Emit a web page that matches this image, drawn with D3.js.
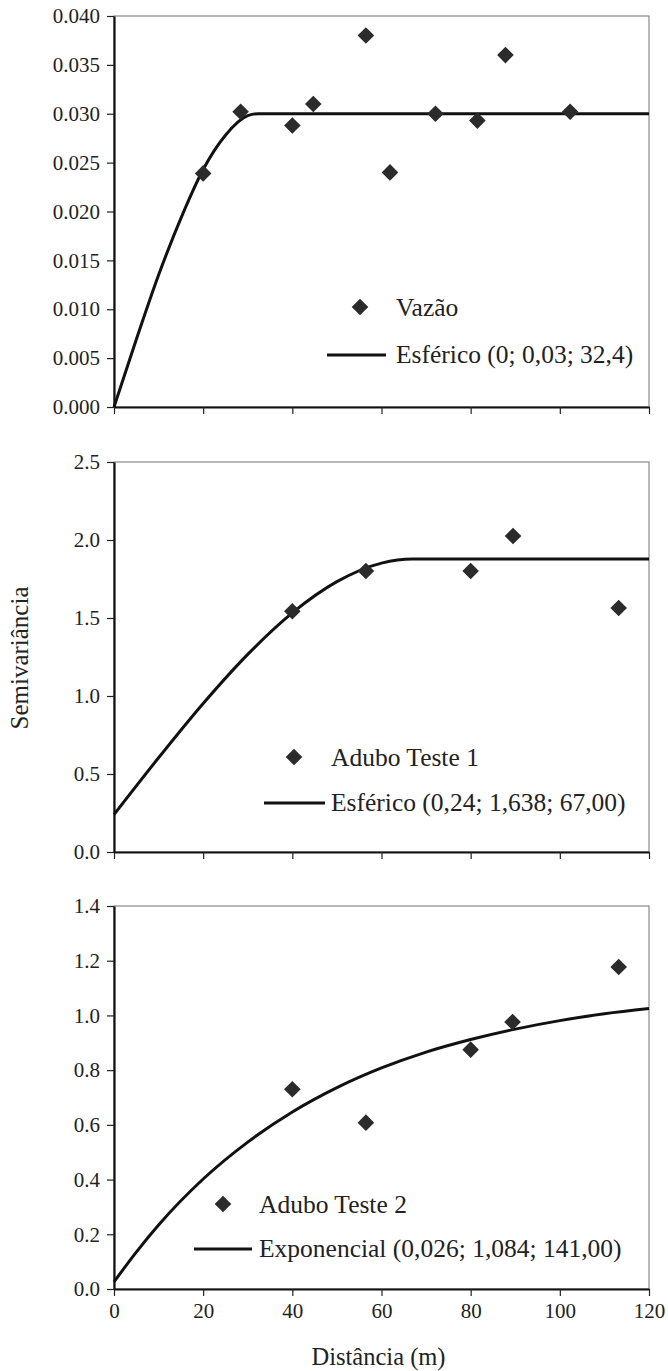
<!DOCTYPE html>
<html lang="pt">
<head>
<meta charset="UTF-8">
<title>Semivariogramas</title>
<script src="https://d3js.org/d3.v7.min.js"></script>
<style>
    body { margin: 0; background: #fff; }
    svg { display: block; font-family: "Liberation Serif", "Times New Roman", serif; }
</style>
</head>
<body>
<svg width="668" height="1371"></svg>
<script>
    // distance ticks shared by the three panels
    const distTicks = [0, 20, 40, 60, 80, 100, 120];

    // Vazão: experimental semivariance and spherical fit (0; 0,03; 32,4)
    const vazaoPts = [[20, 0.0239], [28.4, 0.0302], [40, 0.0288], [44.7, 0.0310], [56.5, 0.0380],
                      [61.9, 0.0240], [72.1, 0.0300], [81.5, 0.0293], [87.8, 0.0360], [102.3, 0.0302]];
    const vazaoFit = [[0, 0], [5, 0.0069], [10, 0.0135], [15, 0.0193], [20, 0.0243], [25, 0.0278],
                      [30, 0.0298], [32.4, 0.0300], [60, 0.0300], [90, 0.0300], [120, 0.0300]];
    const vazaoTicks = [0, 0.005, 0.010, 0.015, 0.020, 0.025, 0.030, 0.035, 0.040];

    // Adubo Teste 1: spherical fit (0,24; 1,638; 67,00)
    const adubo1Pts = [[40, 1.543], [56.5, 1.801], [80, 1.801], [89.5, 2.026], [113.2, 1.564]];
    const adubo1Fit = [[0, 0.240], [10, 0.604], [20, 0.952], [30, 1.267], [40, 1.533], [50, 1.733],
                       [60, 1.852], [67, 1.878], [90, 1.878], [120, 1.878]];
    const adubo1Ticks = [0, 0.5, 1.0, 1.5, 2.0, 2.5];

    // Adubo Teste 2: exponential fit (0,026; 1,084; 141,00)
    const adubo2Pts = [[40, 0.730], [56.5, 0.608], [80, 0.875], [89.4, 0.976], [113.2, 1.177]];
    const adubo2Fit = [[0, 0.026], [5, 0.135], [10, 0.234], [20, 0.402], [30, 0.537], [40, 0.647],
                       [50, 0.736], [60, 0.808], [70, 0.866], [80, 0.912], [90, 0.950], [100, 0.981],
                       [110, 1.006], [120, 1.025]];
    const adubo2Ticks = [0, 0.2, 0.4, 0.6, 0.8, 1.0, 1.2, 1.4];

    const panels = [
        {pts: vazaoPts, fit: vazaoFit, ticks: vazaoTicks, fmt: ".3f", top: 16, bottom: 407,
         ptLabel: "Vazão", fitLabel: "Esférico (0; 0,03; 32,4)",
         leg: {dx: 360, dy: 307, lx1: 327, lx2: 386, ly: 355, tx: 396}},
        {pts: adubo1Pts, fit: adubo1Fit, ticks: adubo1Ticks, fmt: ".1f", top: 462, bottom: 852,
         ptLabel: "Adubo Teste 1", fitLabel: "Esférico (0,24; 1,638; 67,00)",
         leg: {dx: 294, dy: 757, lx1: 264, lx2: 325, ly: 803, tx: 331}},
        {pts: adubo2Pts, fit: adubo2Fit, ticks: adubo2Ticks, fmt: ".1f", top: 906, bottom: 1289,
         ptLabel: "Adubo Teste 2", fitLabel: "Exponencial (0,026; 1,084; 141,00)",
         leg: {dx: 223, dy: 1204, lx1: 194, lx2: 252, ly: 1249, tx: 259}}
    ];

    const svg = d3.select("svg");
    const serif = "'Liberation Serif', 'Times New Roman', serif";
    const left = 114, right = 649;
    const x = d3.scaleLinear().domain([0, 120]).range([left, right]);
    const diamond = "M0,-8.3L8.3,0L0,8.3L-8.3,0Z";

    panels.forEach((p, i) => {
        const y = d3.scaleLinear().domain([0, d3.max(p.ticks)]).range([p.bottom, p.top]);
        const g = svg.append("g");

        // plot frame (grey top / right)
        g.append("rect")
            .attr("x", left).attr("y", p.top)
            .attr("width", right - left).attr("height", p.bottom - p.top)
            .attr("fill", "none").attr("stroke", "#8a8a8a").attr("stroke-width", 1.2);

        // fitted model
        g.append("path")
            .datum(p.fit)
            .attr("fill", "none")
            .attr("stroke", "#111")
            .attr("stroke-width", 3)
            .attr("stroke-linejoin", "round")
            .attr("d", d3.line().x(d => x(d[0])).y(d => y(d[1])).curve(d3.curveMonotoneX));

        // experimental points
        g.selectAll(".pt")
            .data(p.pts)
            .join("path")
            .attr("class", "pt")
            .attr("d", diamond)
            .attr("fill", "#2b2b2b")
            .attr("transform", d => `translate(${x(d[0])},${y(d[1])})`);

        // axes
        const ya = g.append("g")
            .attr("transform", `translate(${left},0)`)
            .call(d3.axisLeft(y).tickValues(p.ticks).tickFormat(d3.format(p.fmt))
                .tickSize(7).tickSizeOuter(0).tickPadding(7));
        const xa = g.append("g")
            .attr("transform", `translate(0,${p.bottom})`)
            .call(d3.axisBottom(x).tickValues(distTicks)
                .tickFormat(i === 2 ? d3.format("d") : () => "")
                .tickSize(7).tickSizeOuter(0).tickPadding(7));
        [ya, xa].forEach(a => {
            a.attr("font-family", serif).attr("font-size", 21);
            a.select(".domain").attr("stroke", "#111").attr("stroke-width", 2.2);
            a.selectAll(".tick line").attr("stroke", "#222").attr("stroke-width", 1.2);
            a.selectAll(".tick text").attr("fill", "#222");
        });

        // legend
        const L = p.leg;
        g.append("path").attr("d", diamond).attr("fill", "#2b2b2b")
            .attr("transform", `translate(${L.dx},${L.dy})`);
        g.append("text").attr("x", L.tx).attr("y", L.dy + 9)
            .attr("fill", "#222").style("font-size", "25.5px").text(p.ptLabel);
        g.append("line").attr("x1", L.lx1).attr("x2", L.lx2).attr("y1", L.ly).attr("y2", L.ly)
            .attr("stroke", "#111").attr("stroke-width", 3.2);
        g.append("text").attr("x", L.tx).attr("y", L.ly + 8)
            .attr("fill", "#222").style("font-size", "25.5px").text(p.fitLabel);
    });

    // axis titles
    svg.append("text")
        .attr("x", (left + right) / 2 - 3).attr("y", 1365)
        .attr("text-anchor", "middle").attr("fill", "#222")
        .style("font-size", "24.5px")
        .text("Distância (m)");
    svg.append("text")
        .attr("transform", "translate(28,658) rotate(-90)")
        .attr("text-anchor", "middle").attr("fill", "#222")
        .style("font-size", "25px")
        .text("Semivariância");
</script>
</body>
</html>
